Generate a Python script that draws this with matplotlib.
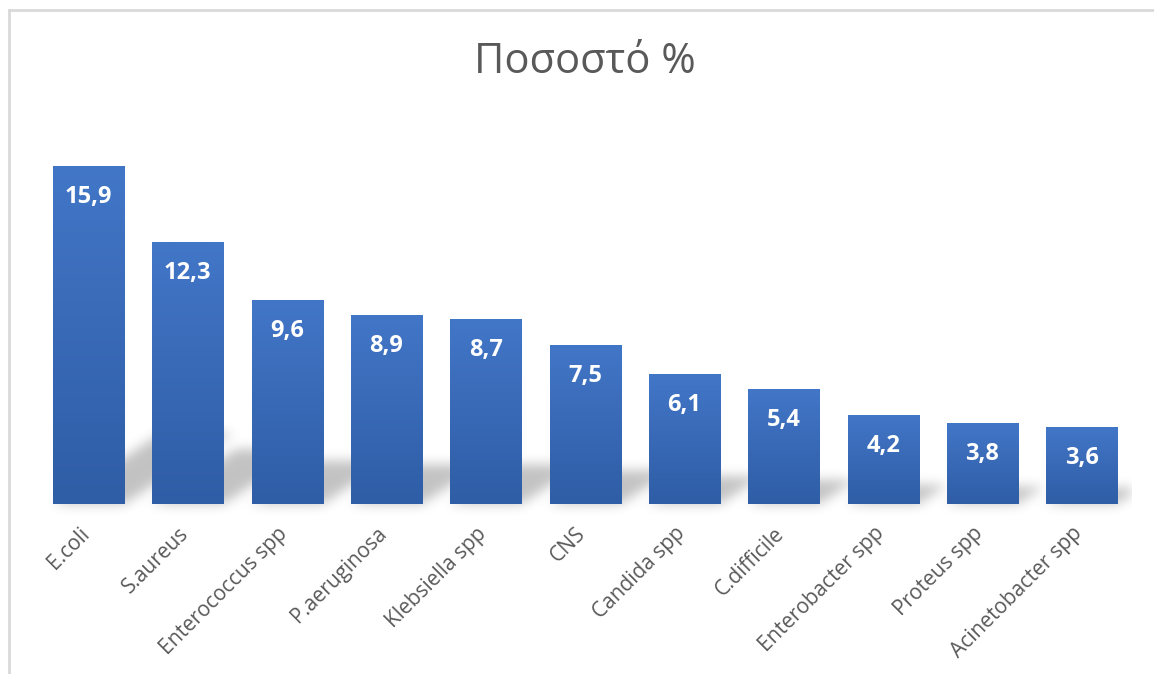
import numpy as np
import matplotlib
matplotlib.use('Agg')
import matplotlib.pyplot as plt
from matplotlib.patches import Rectangle
from matplotlib.path import Path
from matplotlib.lines import Line2D
from matplotlib.colors import LinearSegmentedColormap

# Pathogen shares (%)
categories = ['E.coli', 'S.aureus', 'Enterococcus spp', 'P.aeruginosa', 'Klebsiella spp',
              'CNS', 'Candida spp', 'C.difficile', 'Enterobacter spp', 'Proteus spp',
              'Acinetobacter spp']
values = [15.9, 12.3, 9.6, 8.9, 8.7, 7.5, 6.1, 5.4, 4.2, 3.8, 3.6]
title = 'Ποσοστό %'

plt.rcParams['font.family'] = ['Open Sans', 'DejaVu Sans']

W, H = 1154, 674
fig = plt.figure(figsize=(W / 100, H / 100), dpi=100)
fig.patch.set_facecolor('white')

# axes placement in pixels
ax_left, ax_right = 38.8, 1131.5
ax_top, ax_base = 130, 504
ax = fig.add_axes([ax_left / W, (H - ax_base) / H,
                   (ax_right - ax_left) / W, (ax_base - ax_top) / H])
ymax = 17.59
ax.set_xlim(-0.5, len(values) - 0.5)
ax.set_ylim(0, ymax)
ax.axis('off')

bar_w = 0.715
x = np.arange(len(values))
px_per_x = (ax_right - ax_left) / len(values)
px_per_y = (ax_base - ax_top) / ymax

# --- soft perspective shadow behind the bars ---
nx, ny = 1100, 420
y_lo = -1.5
gx = np.linspace(-0.5, len(values) - 0.5, nx)
gy = np.linspace(y_lo, ymax, ny)
GX, GY = np.meshgrid(gx, gy)
pts = np.column_stack([GX.ravel(), GY.ravel()])
mask = np.zeros(GX.size)
for xi, v in zip(x, values):
    hs = 0.21 * v
    sx = 0.32 * v * px_per_y / px_per_x
    poly = Path([(xi - bar_w / 2, 0), (xi + bar_w / 2, 0),
                 (xi + bar_w / 2 + sx, hs), (xi - bar_w / 2 + sx, hs),
                 (xi - bar_w / 2, 0)])
    mask = np.maximum(mask, poly.contains_points(pts).astype(float))
mask = mask.reshape(GX.shape)

sigma = 6.0
k = np.arange(-20, 21)
kern = np.exp(-k ** 2 / (2 * sigma ** 2))
kern /= kern.sum()
blur = np.apply_along_axis(lambda r: np.convolve(r, kern, mode='same'), 1, mask)
blur = np.apply_along_axis(lambda c: np.convolve(c, kern, mode='same'), 0, blur)

shadow = np.zeros((ny, nx, 4))
shadow[..., 3] = 0.24 * blur
ax.imshow(shadow, extent=(gx[0], gx[-1], y_lo, ymax), origin='lower',
          aspect='auto', zorder=1, interpolation='bilinear', clip_on=False)

# --- gradient-filled bars ---
cmap = LinearSegmentedColormap.from_list('barfill', ['#2F5DA6', '#4276C7'])
grad = np.linspace(0, 1, 256).reshape(-1, 1)
for xi, v in zip(x, values):
    rect = Rectangle((xi - bar_w / 2, 0), bar_w, v, facecolor='none',
                     edgecolor='none', zorder=2)
    ax.add_patch(rect)
    im = ax.imshow(grad, extent=(xi - bar_w / 2, xi + bar_w / 2, 0, v),
                   origin='lower', cmap=cmap, aspect='auto', zorder=2)
    im.set_clip_path(rect)
    ax.text(xi, v - 31 / px_per_y, f'{v:.1f}'.replace('.', ','),
            ha='center', va='center', color='white', fontsize=17,
            fontweight='bold', zorder=3)

ax.set_xlim(-0.5, len(values) - 0.5)
ax.set_ylim(0, ymax)

# --- category labels, rotated ---
for xi, name in zip(x, categories):
    ax.annotate(name, xy=(xi, 0), xycoords='data',
                xytext=(5, -19), textcoords='offset pixels',
                rotation=45, ha='right', va='top', rotation_mode='default',
                color='#595959', fontsize=15)

fig.text(585 / W, 1 - 62 / H, title, ha='center', va='center',
         color='#595959', fontsize=30)

# chart frame
fig.add_artist(Line2D([9 / W, 9 / W], [0, 1 - 10 / H], transform=fig.transFigure,
                      color='#D9D9D9', lw=2))
fig.add_artist(Line2D([9 / W, 1], [1 - 10 / H, 1 - 10 / H], transform=fig.transFigure,
                      color='#D9D9D9', lw=2))

fig.savefig('out.png', dpi=100)
